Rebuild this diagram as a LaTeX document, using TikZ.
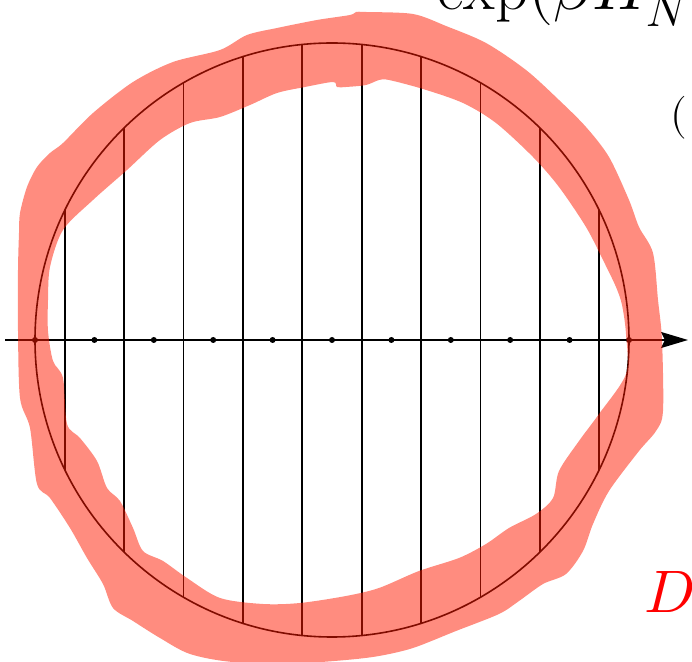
\documentclass[tikz,border=0pt]{standalone}
\usepackage{unicode-math}
\usetikzlibrary{arrows.meta}
\definecolor{bandred}{RGB}{255,25,0}
\tikzset{
  vline/.style={line width=0.9pt, black},
  circ/.style={line width=0.8pt, black},
  axisline/.style={line width=1pt, black, -{Stealth[length=13.5pt,width=8pt,inset=2pt]}},
  dotmark/.style={black},
  band/.style={fill=bandred, fill opacity=0.5, draw=none, even odd rule},
  bigtext/.style={inner sep=0pt, anchor=base west, font=\fontsize{32.5}{36}\selectfont},
}
\begin{document}
\begin{tikzpicture}[x=0.5pt,y=-0.5pt]
\useasboundingbox (0,0) rectangle (692,662);
\clip (0,0) rectangle (692,662);
\coordinate (c) at (332,340);
% vertical chords
\begin{scope}
  \clip (c) circle[radius=297];
  \foreach \k in {0,...,9} {
    \coordinate (t\k) at ({64.7+59.4*\k},0);
    \coordinate (b\k) at ({64.7+59.4*\k},700);
    \draw[vline] (t\k) -- (b\k);
  }
\end{scope}
\draw[circ] (c) circle[radius=297];
% axis
\coordinate (a0) at (5,340);
\coordinate (a1) at (688,340);
\draw[axisline] (a0) -- (a1);
\foreach \k in {0,...,10} \fill[dotmark] ({35+59.4*\k},340) circle[radius=3];
% highlighted band
\fill[band]
  plot[smooth cycle, tension=0.5] coordinates {
    (247,35) (277,28) (317,20) (350,15) (356,12) (366,12) (413,14) (446,26) (486,43)
    (526,70) (559,100) (586,127) (609,157) (629,200) (639,227) (653,253)
    (658,300) (662,340) (663,411) (656,431) (639,451) (609,491) (593,524)
    (583,551) (566,574) (543,584) (519,601) (499,614) (456,631) (413,648)
    (379,656) (346,660) (300,663) (233,662) (190,654) (160,638) (133,621)
    (113,608) (103,584) (87,558) (70,528) (50,498) (37,484) (30,428)
    (20,398) (18,331) (18,270) (19,233) (20,213) (27,187) (37,167) (50,153) (63,143)
    (93,113) (133,82) (173,62) (220,50)
  }
  plot[smooth cycle, tension=0.5] coordinates {
    (190,123) (220,117) (250,105) (277,93) (305,87) (333,82) (337,87) (346,87)
    (366,85) (379,80) (389,80) (423,89) (463,103) (496,123) (533,157)
    (559,187) (586,227) (603,260) (616,287) (622,305) (626,334) (626,374)
    (599,414) (579,441) (559,471) (553,498) (536,514) (509,528) (486,544)
    (459,558) (419,571) (379,588) (346,596) (300,603) (263,604) (220,598)
    (187,578) (163,561) (143,551) (133,528) (120,501) (107,488) (97,461)
    (80,438) (67,424) (63,378) (53,361) (48,331) (48,300) (50,267) (63,230)
    (93,200) (127,170) (160,140)
  };
% texts
\node[bigtext] (top) at (437,10) {$\exp(\beta H_N$};
\node[inner sep=0pt, anchor=base west, font=\fontsize{21.5}{24}\selectfont] (paren) at (670,129) {$($};
\node[inner sep=0pt, anchor=base west, font=\fontsize{30}{34}\selectfont, text=red] (dlabel) at (644,613) {$D$};
\end{tikzpicture}
\end{document}
